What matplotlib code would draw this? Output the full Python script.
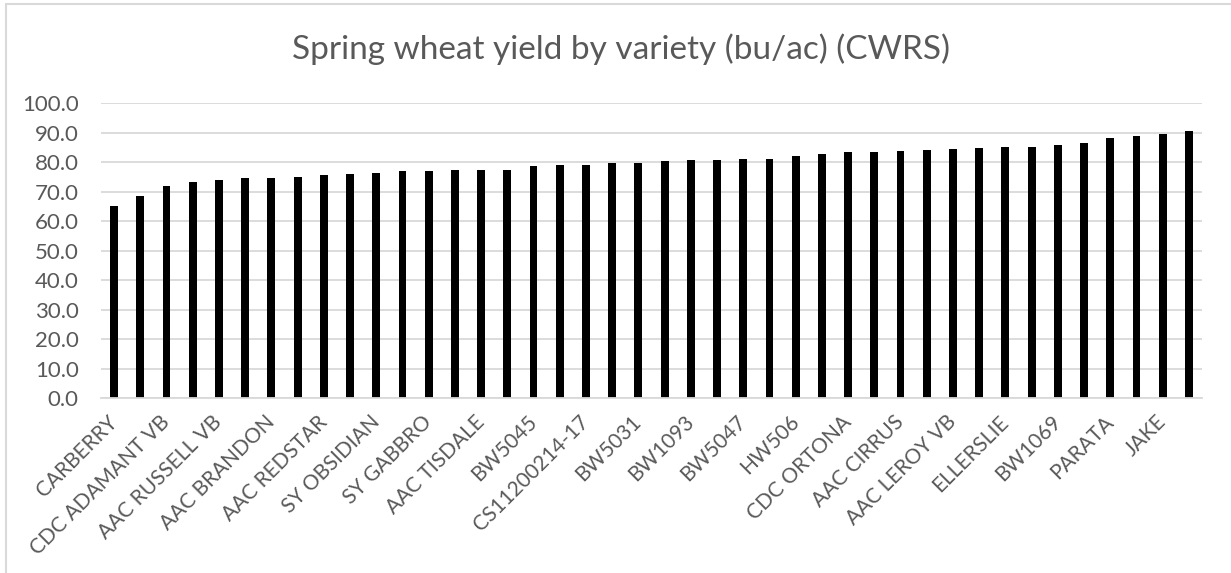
import matplotlib.pyplot as plt
from matplotlib.patches import Rectangle

# every other variety name is hidden on the axis in the original chart
varieties = [
    "CARBERRY", "", "CDC ADAMANT VB", "", "AAC RUSSELL VB", "",
    "AAC BRANDON", "", "AAC REDSTAR", "", "SY OBSIDIAN", "",
    "SY GABBRO", "", "AAC TISDALE", "", "BW5045", "",
    "CS11200214-17", "", "BW5031", "", "BW1093", "",
    "BW5047", "", "HW506", "", "CDC ORTONA", "",
    "AAC CIRRUS", "", "AAC LEROY VB", "", "ELLERSLIE", "",
    "BW1069", "", "PARATA", "", "JAKE", "",
]
yields = [
    65.2, 68.7, 72.0, 73.3, 74.0, 74.6, 74.7, 75.0, 75.7, 75.9,
    76.3, 76.9, 77.1, 77.3, 77.4, 77.5, 78.6, 78.9, 78.9, 79.7,
    79.8, 80.5, 80.6, 80.7, 81.1, 81.2, 82.0, 82.8, 83.4, 83.4,
    83.8, 84.2, 84.5, 84.9, 85.1, 85.3, 85.7, 86.4, 88.2, 89.0,
    89.5, 90.5,
]
y_ticks = [0, 10, 20, 30, 40, 50, 60, 70, 80, 90, 100]
title = "Spring wheat yield by variety (bu/ac) (CWRS)"

plt.rcParams['font.family'] = ['Lato', 'DejaVu Sans']
text_color = '#595959'
grid_color = '#D9D9D9'

W, H = 1231, 573
fig = plt.figure(figsize=(W / 100, H / 100), dpi=100)
ax = fig.add_axes([101 / W, 1 - 398 / H, (1202 - 101) / W, (398 - 103.3) / H])

x = list(range(len(yields)))
ax.bar(x, yields, width=0.3, color='black', zorder=3)

ax.set_xlim(-0.5, len(yields) - 0.5)
ax.set_ylim(0, 100)
ax.set_yticks(y_ticks)
ax.set_yticklabels([f"{v:.1f}" for v in y_ticks])
ax.yaxis.grid(True, color=grid_color, linewidth=1.3, zorder=0)

shown = [i for i, name in enumerate(varieties) if name]
ax.set_xticks(shown)
ax.set_xticklabels([varieties[i] for i in shown], rotation=45, ha='right',
                   va='center', rotation_mode='anchor')

for side in ['top', 'right', 'left']:
    ax.spines[side].set_visible(False)
ax.spines['bottom'].set_color(grid_color)
ax.spines['bottom'].set_linewidth(1.3)
ax.spines['bottom'].set_zorder(4)

ax.tick_params(axis='y', length=0, pad=16, labelsize=16, labelcolor=text_color)
ax.tick_params(axis='x', length=0, pad=15, labelsize=15, labelcolor=text_color)

fig.text(621 / W, 1 - 59 / H, title, ha='center', va='baseline',
         fontsize=24, color=text_color)

# chart border, runs off the right and bottom of the picture
fig.patches.append(Rectangle((6 / W, -0.1), 1.2, 1 - 4 / H + 0.1,
                             transform=fig.transFigure, fill=False,
                             edgecolor=grid_color, linewidth=1.5))

fig.savefig('out.png', dpi=100)
